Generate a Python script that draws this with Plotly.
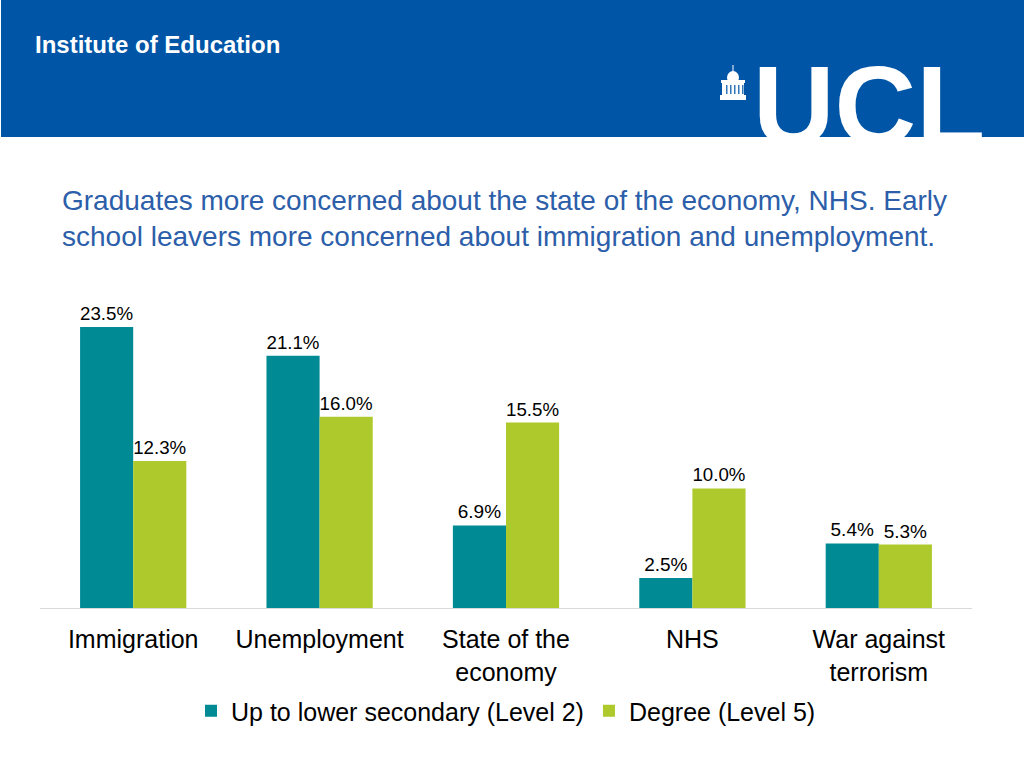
import plotly.graph_objects as go

categories = ["Immigration", "Unemployment", "State of the<br>economy", "NHS", "War against<br>terrorism"]
series_names = ["Up to lower secondary (Level 2)", "Degree (Level 5)"]
lower_secondary = [23.5, 21.1, 6.9, 2.5, 5.4]
degree = [12.3, 16.0, 15.5, 10.0, 5.3]

TEAL = "#008A94"
GREEN = "#ADC92B"
BANNER = "#0055A6"
TITLE_BLUE = "#2C5EA9"
FONT = "Liberation Sans, Arial, sans-serif"

W, H = 1024, 768
L, R, T, B = 40, 52, 309, 160
PW, PH = W - L - R, H - T - B


def px(x):
    return (x - L) / PW


def py(y):
    return (H - B - y) / PH


fig = go.Figure()
for name, vals, col in [(series_names[0], lower_secondary, TEAL), (series_names[1], degree, GREEN)]:
    fig.add_trace(go.Bar(
        x=categories, y=vals, name=name, marker_color=col, marker_line_width=0,
        text=[f"{v:.1f}%" for v in vals], textposition="outside",
        textfont=dict(size=19, color="#000000", family=FONT),
        cliponaxis=False,
    ))

shapes = [
    dict(type="rect", xref="paper", yref="paper", x0=px(1), x1=px(1024), y0=py(0), y1=py(137),
         fillcolor=BANNER, line_width=0, layer="below"),
    # UCL building icon
    dict(type="rect", xref="paper", yref="paper", x0=px(720), x1=px(746), y0=py(95), y1=py(100),
         fillcolor="white", line_width=0),
    dict(type="rect", xref="paper", yref="paper", x0=px(722), x1=px(744), y0=py(82), y1=py(95),
         fillcolor="white", line_width=0),
    dict(type="rect", xref="paper", yref="paper", x0=px(721), x1=px(745), y0=py(80), y1=py(83),
         fillcolor="white", line_width=0),
    dict(type="circle", xref="paper", yref="paper", x0=px(727), x1=px(739), y0=py(71), y1=py(84),
         fillcolor="white", line_width=0),
    dict(type="rect", xref="paper", yref="paper", x0=px(732.5), x1=px(733.5), y0=py(65), y1=py(72),
         fillcolor="white", line_width=0),
]
for cx in [725, 729, 733, 737, 741]:
    shapes.append(dict(type="rect", xref="paper", yref="paper", x0=px(cx + 1.2), x1=px(cx + 2.4),
                       y0=py(85), y1=py(94), fillcolor=BANNER, line_width=0))

annotations = [
    dict(text="<b>Institute of Education</b>", x=px(33), y=py(44), xref="paper", yref="paper",
         xanchor="left", yanchor="middle", showarrow=False,
         font=dict(size=24, color="white", family=FONT)),
    dict(text="<b>UCL</b>", x=px(987), y=py(171), xref="paper", yref="paper",
         xanchor="right", yanchor="bottom", showarrow=False,
         font=dict(size=113, color="white", family=FONT)),
    dict(text="Graduates more concerned about the state of the economy, NHS. Early<br>"
              "school leavers more concerned about immigration and unemployment.",
         x=px(60), y=py(218), xref="paper", yref="paper", xanchor="left", yanchor="middle",
         align="left", showarrow=False, font=dict(size=28, color=TITLE_BLUE, family=FONT)),
]

fig.update_layout(
    width=W, height=H,
    margin=dict(l=L, r=R, t=T, b=B),
    paper_bgcolor="white", plot_bgcolor="white",
    barmode="group", bargap=0.43, bargroupgap=0,
    font=dict(family=FONT, color="#000000"),
    xaxis=dict(showline=True, linecolor="#D9D9D9", linewidth=1, ticks="", showgrid=False,
               ticklabelstandoff=9,
               tickfont=dict(size=25, color="#000000", family=FONT), fixedrange=True),
    yaxis=dict(range=[0, 25], visible=False, fixedrange=True),
    showlegend=True,
    legend=dict(orientation="h", x=0.5, xanchor="center", y=py(711), yanchor="middle",
                font=dict(size=25, color="#000000", family=FONT), bgcolor="rgba(0,0,0,0)"),
    shapes=shapes,
    annotations=annotations,
)

fig.write_html("out.html", config={"displayModeBar": False},
               post_script="document.body.style.margin='0';document.body.style.overflow='hidden';")
